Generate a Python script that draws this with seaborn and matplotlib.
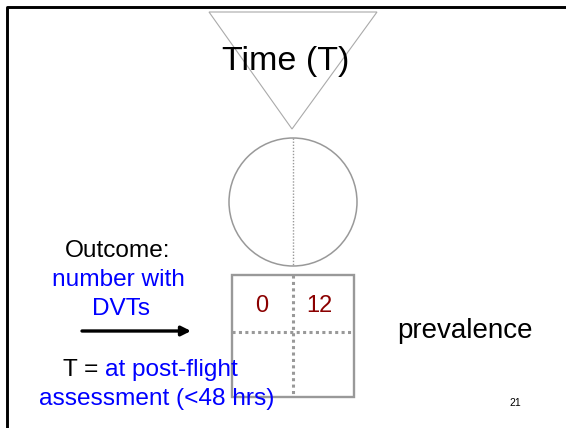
import matplotlib
matplotlib.use("Agg")
import matplotlib.pyplot as plt
from matplotlib.patches import Circle, Rectangle, Polygon
import seaborn as sns

# cell counts shown in the 2x2 table (top row only is filled in)
cell_counts = [0, 12]
cell_color = "#8b0000"

title_text = "Time (T)"
outcome_lines = ["Outcome:", "number with", "DVTs"]
time_prefix = "T = "
time_lines = ["at post-flight", "assessment (<48 hrs)"]
measure_label = "prevalence"
slide_no = "21"

sns.set_theme(style="white")
plt.rcParams["font.family"] = ["Liberation Sans", "DejaVu Sans"]

W, H = 566, 428
fig = plt.figure(figsize=(W / 100, H / 100), dpi=100)
ax = fig.add_axes([0, 0, 1, 1])
ax.set_xlim(0, W)
ax.set_ylim(H, 0)
ax.axis("off")

grey = "#999999"
blue = "#0000ff"

# slide frame (left + top edge)
ax.plot([6.5, 6.5, W], [H, 7, 7], color="black", lw=2.1, solid_capstyle="butt")

# time triangle
ax.add_patch(Polygon([[209, 12], [377, 12], [292, 129]], closed=True,
                     fill=False, edgecolor="#aaaaaa", lw=0.8, zorder=3))
ax.text(286, 70, title_text, fontsize=24.5, ha="center", va="baseline", color="black")

# population circle with dotted split
cx, cy, r = 293, 202, 64
ax.add_patch(Circle((cx, cy), r, fill=False, edgecolor=grey, lw=1.1))
ax.plot([cx, cx], [cy - r, cy + r], color=grey, lw=1.0, ls=(0, (1, 1.2)))

# 2x2 table
x0, x1, y0, y1 = 232, 354, 275, 397
xm, ym = 293, 332
ax.add_patch(Rectangle((x0, y0), x1 - x0, y1 - y0, fill=False, edgecolor=grey, lw=1.7, zorder=3))
ax.plot([xm, xm], [y0, y1], color=grey, lw=2.2, ls=(0, (1, 1.1)))
ax.plot([x0, x1], [ym, ym], color=grey, lw=2.2, ls=(0, (1, 1.1)))
cell_x = [262, 319]
for x, n in zip(cell_x, cell_counts):
    ax.text(x, 312, str(n), fontsize=17, ha="center", va="baseline", color=cell_color)

ax.text(465, 338, measure_label, fontsize=20, ha="center", va="baseline", color="black")

# outcome description
ax.text(118, 257, outcome_lines[0], fontsize=17.6, ha="center", va="baseline", color="black")
ax.text(118, 286, outcome_lines[1], fontsize=17.6, ha="center", va="baseline", color=blue)
ax.text(121, 315, outcome_lines[2], fontsize=17.6, ha="center", va="baseline", color=blue)

ax.annotate("", xy=(191, 331), xytext=(82, 331),
            arrowprops=dict(arrowstyle="-|>", lw=2.4, color="black", mutation_scale=14,
                            shrinkA=0, shrinkB=0))

# time of measurement, mixed colour first line
t1 = ax.text(63, 376, time_prefix, fontsize=17.6, ha="left", va="baseline", color="black")
fig.canvas.draw()
bb = t1.get_window_extent().transformed(ax.transData.inverted())
ax.text(bb.x1, 376, time_lines[0], fontsize=17.6, ha="left", va="baseline", color=blue)
ax.text(157, 405, time_lines[1], fontsize=17.6, ha="center", va="baseline", color=blue)

ax.text(515, 406, slide_no, fontsize=7.5, ha="center", va="baseline", color="black")

fig.savefig("out.png", dpi=100, facecolor="white")
